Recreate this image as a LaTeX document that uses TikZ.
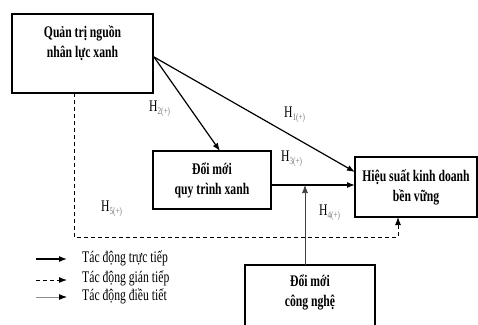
\documentclass[tikz,border=0pt]{standalone}
\usepackage{fontspec}
\setmainfont{Liberation Serif}[FakeStretch=0.72]
\usetikzlibrary{arrows.meta,calc}
\newcommand\hypo[1]{H\raisebox{-3pt}{\textcolor{hgray}{\fontsize{10}{10}\selectfont #1}}}
\begin{document}
\begin{tikzpicture}[x=1pt,y=-1pt,
  box/.style={draw, line width=2pt, rectangle, inner sep=0pt},
  btxt/.style={font=\fontsize{16.2}{20}\selectfont\bfseries, align=center, inner sep=0pt},
  htxt/.style={font=\fontsize{16.2}{17}\selectfont, inner sep=0pt, anchor=west},
  ltxt/.style={font=\fontsize{16.2}{17}\selectfont, inner sep=0pt, anchor=west},
  direct/.style={line width=1.2pt, -{Latex[length=8pt,width=6pt]}},
  indirect/.style={line width=1pt, dashed, dash pattern=on 4pt off 3pt, -{Latex[length=8pt,width=6pt]}},
  moder/.style={line width=0.7pt, draw=black!75, -{Latex[length=8pt,width=6pt]}},
  moderleg/.style={line width=0.9pt, draw=black!45, -{Latex[length=8pt,width=6pt,color=black]}}
]
\definecolor{hgray}{RGB}{120,120,120}
\useasboundingbox (0,0) rectangle (478,324);
\clip (0,0) rectangle (478,324);

% boxes
\node[box, minimum width=141pt, minimum height=79pt] (qt) at (82.5,53.5) {};
\node[btxt] (qtt) at (82.5,43) {Quản trị nguồn\\nhân lực xanh};
\node[box, minimum width=118pt, minimum height=58pt, btxt] (dq) at (212,180) {Đổi mới\\quy trình xanh};
\node[box, minimum width=122pt, minimum height=60pt, btxt] (hs) at (416,187) {Hiệu suất kinh doanh\\bền vững};
\node[box, minimum width=130pt, minimum height=66pt] (cn) at (310,298) {};
\node[btxt] (cnt) at (310,292.5) {Đổi mới\\công nghệ};

% connectors
\coordinate (s1) at ($(qt.east)+(0,3.5)$);
\coordinate (e2) at (220,151);
\coordinate (e1) at (355,172);
\coordinate (s3) at ($(dq.east)+(0,5)$);
\coordinate (e3) at (355,185);
\coordinate (m3) at (305,185);
\coordinate (s4) at (305,265);
\coordinate (s5) at (74,93);
\coordinate (c5a) at (74,237);
\coordinate (c5b) at (398,237);
\coordinate (e5) at (398,217);

\draw[direct] (s1) -- (e2);
\draw[direct] (s1) -- (e1);
\draw[direct] (s3) -- (e3);
\draw[moder] (s4) -- (m3);
\draw[indirect] (s5) -- (c5a) -- (c5b) -- (e5);

% labels
\node[htxt] (h2) at (149,109) {\hypo{2(+)}};
\node[htxt] (h1) at (284,115) {\hypo{1(+)}};
\node[htxt] (h3) at (281,159) {\hypo{3(+)}};
\node[htxt] (h4) at (319,213) {\hypo{4(+)}};
\node[htxt] (h5) at (101,209) {\hypo{5(+)}};

% legend
\coordinate (l1a) at (36,259); \coordinate (l1b) at (67,259);
\coordinate (l2a) at (36,280); \coordinate (l2b) at (67,280);
\coordinate (l3a) at (36,297); \coordinate (l3b) at (67,297);
\draw[direct] (l1a) -- (l1b);
\draw[indirect] (l2a) -- (l2b);
\draw[moderleg] (l3a) -- (l3b);
\node[ltxt] (t1) at (82,258) {Tác động trực tiếp};
\node[ltxt] (t2) at (82,278) {Tác động gián tiếp};
\node[ltxt] (t3) at (82,296) {Tác động điều tiết};
\end{tikzpicture}
\end{document}
